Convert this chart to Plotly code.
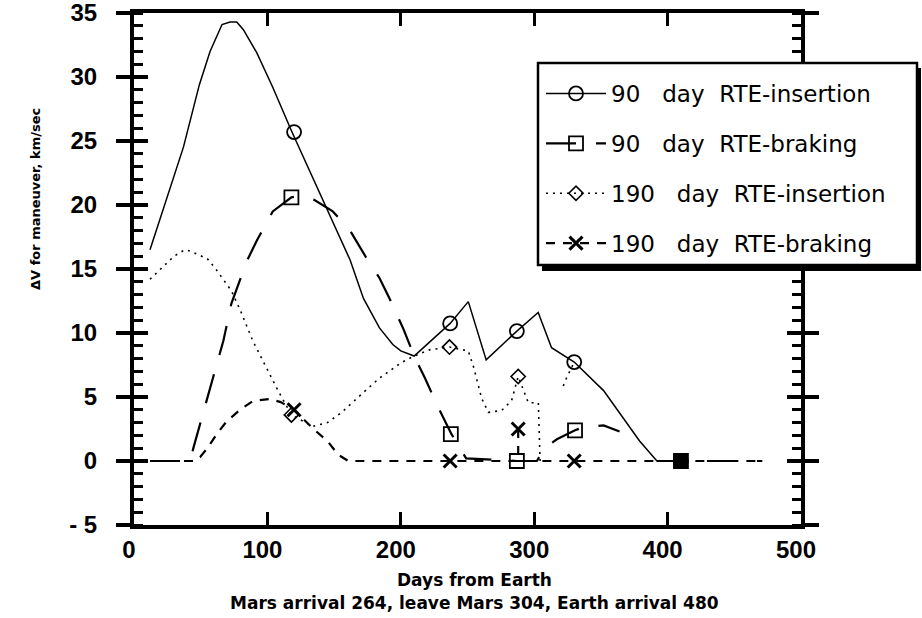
import plotly.graph_objects as go

# ---------------- data ----------------
names = ["90 day RTE-insertion", "90 day RTE-braking",
         "190 day RTE-insertion", "190 day RTE-braking"]
legend_labels = ["90\u00a0\u00a0 day\u00a0 RTE-insertion", "90\u00a0\u00a0 day\u00a0 RTE-braking",
                 "190\u00a0\u00a0 day\u00a0 RTE-insertion", "190\u00a0\u00a0 day\u00a0 RTE-braking"]

# 90 day RTE-insertion
a_x = [12, 24, 37, 49, 57, 66, 72, 77, 82, 92, 104, 118, 134, 149, 162, 172, 184, 194, 200, 210,
       237, 250.6, 264, 287, 303, 313, 330, 352, 372, 379, 392, 410]
a_y = [16.5, 20.3, 24.5, 29.4, 32, 34.1, 34.3, 34.3, 33.7, 31.9, 29.2, 25.8, 22.1, 18.75, 15.7, 12.7,
       10.4, 9.1, 8.6, 8.2, 10.75, 12.45, 7.9, 10.15, 11.6, 8.85, 7.73, 5.5, 2.6, 1.56, 0, 0]
a_mx = [120, 237, 287, 330, 410]
a_my = [25.7, 10.75, 10.15, 7.73, 0]

# 90 day RTE-braking
b_x = [12, 42, 45, 57, 67, 73, 84.5, 92, 104, 118, 124, 135, 149, 162, 174, 184, 192, 202, 210, 218,
       228, 238, 241, 249, 287, 302, 308, 317, 330.6, 337, 352, 364, None, 392, 471]
b_y = [0, 0, 1.2, 5.7, 9.4, 12.3, 15.6, 17.2, 19.5, 20.6, 20.7, 20.4, 19.5, 18, 15.9, 14.3, 12.6, 10.3, 8.2, 6.5,
       4.2, 2.1, 1.6, 0.2, 0, 0, 1.04, 1.7, 2.4, 2.65, 2.78, 2.3, None, 0, 0]
b_mx = [118, 237.5, 287, 330.6, 410]
b_my = [20.6, 2.1, 0, 2.4, 0]
b_msym = ["square-open", "square-open", "square-open", "square-open", "square"]

# 190 day RTE-insertion
c_x = [12, 20.7, 30, 38, 42, 55, 62, 73, 80, 89, 99, 108, 118, 134, 145, 155.7, 175.6, 184.4, 200.6, 210,
       222, 236.5, 250.6, 254.4, 260.6, 265.6, 275.6, 283, 288, 295.6, 303.1, 304.4, None, 321.8, 324.3, 330]
c_y = [14.2, 15.1, 16.0, 16.5, 16.4, 15.8, 14.9, 13.3, 11.7, 9.4, 7.3, 5.5, 3.6, 2.7, 3.0, 3.8, 5.7, 6.5, 7.7, 8.2,
       8.7, 8.9, 8.6, 7.4, 4.9, 3.8, 3.95, 4.7, 6.6, 4.55, 4.55, 0, None, 5.86, 6.5, 7.73]
c_mx = [118, 236.5, 288]
c_my = [3.6, 8.9, 6.6]

# 190 day RTE-braking
d_x = [12, 45, 49.5, 55, 62, 69.5, 79.5, 89.4, 102, 110, 120, 134, 145, 153, 160.6, 471, None, 288, 288]
d_y = [0, 0, 0.3, 1.0, 2.1, 3.1, 4.0, 4.7, 4.85, 4.6, 4.0, 2.55, 1.56, 0.5, 0, 0, None, 2.5, 0]
d_mx = [120, 237, 288, 330]
d_my = [4.0, 0, 2.5, 0]

x_ticks = [0, 100, 200, 300, 400, 500]
y_ticks = [-5, 0, 5, 10, 15, 20, 25, 30, 35]
y_ticktext = ["- 5", "0", "5", "10", "15", "20", "25", "30", "35"]

# ---------------- styles ----------------
line_styles = [
    dict(color="black", width=1.5, dash="solid"),
    dict(color="black", width=2.2, dash="30px,20px"),
    dict(color="black", width=1.6, dash="2px,5px"),
    dict(color="black", width=2.2, dash="9px,8px"),
]
marker_styles = [
    dict(symbol="circle-open", size=14, color="black", line=dict(width=1.8, color="black")),
    dict(symbol="square-open", size=14, color="black", line=dict(width=1.8, color="black")),
    dict(symbol="diamond-open", size=11, color="black", line=dict(width=1.6, color="black")),
    dict(symbol="x-thin-open", size=13, color="black", line=dict(width=3, color="black")),
]

series = [(a_x, a_y, a_mx, a_my), (b_x, b_y, b_mx, b_my), (c_x, c_y, c_mx, c_my), (d_x, d_y, d_mx, d_my)]

fig = go.Figure()
for i, (sx, sy, mx, my) in enumerate(series):
    grp = f"g{i}"
    fig.add_trace(go.Scatter(x=sx, y=sy, mode="lines", line=line_styles[i],
                             showlegend=False, legendgroup=grp, hoverinfo="skip",
                             connectgaps=False, name=names[i]))
    m = dict(marker_styles[i])
    if i == 1:
        m["symbol"] = b_msym
    fig.add_trace(go.Scatter(x=mx, y=my, mode="markers", marker=m,
                             showlegend=False, legendgroup=grp, name=names[i]))
    # legend entry (line + marker sample)
    fig.add_trace(go.Scatter(x=[None], y=[None], mode="lines+markers", line=line_styles[i],
                             marker=marker_styles[i], name=legend_labels[i],
                             legendgroup=grp, showlegend=True))

# plot area in pixels
L, R, T, B = 134, 801, 13, 525
W, H = 922, 618
pw, ph = R - L, B - T

def px(x):
    return (x - L) / pw

def py(y):
    return (B - y) / ph

tickfont = dict(family="Liberation Sans, Arial", size=24, color="black", weight="bold")

fig.update_layout(
    width=W, height=H,
    margin=dict(l=L, r=W - R, t=T, b=H - B, autoexpand=False),
    paper_bgcolor="white", plot_bgcolor="white",
    showlegend=True,
    legend=dict(x=px(541), y=py(72), xanchor="left", yanchor="top",
                bgcolor="rgba(0,0,0,0)", borderwidth=0,
                font=dict(family="DejaVu Sans", size=23, color="black"),
                itemwidth=60, traceorder="grouped", tracegroupgap=17,
                itemclick=False),
    xaxis=dict(range=[0, 500], tickvals=x_ticks, showgrid=False, zeroline=False,
               showline=True, linecolor="black", linewidth=4, mirror="ticks",
               ticks="inside", ticklen=13, tickwidth=3, tickcolor="black",
               tickfont=tickfont, ticklabelstandoff=0, ticklabelshift=-5,
               ticklabeloverflow="allow"),
    yaxis=dict(range=[-5, 35], tickvals=y_ticks, ticktext=y_ticktext, showgrid=False, zeroline=False,
               showline=True, linecolor="black", linewidth=4, mirror="ticks",
               ticks="outside", ticklen=14, tickwidth=4, tickcolor="black",
               minor=dict(dtick=1, ticks="inside", ticklen=9, tickwidth=3, tickcolor="black", showgrid=False),
               tickfont=tickfont, ticklabelstandoff=14, ticklabeloverflow="allow"),
    yaxis2=dict(range=[-5, 35], tickvals=y_ticks, overlaying="y", side="left", showgrid=False,
                zeroline=False, showline=False, mirror="ticks", ticks="inside", ticklen=14,
                tickwidth=4, tickcolor="black", showticklabels=False),
)

# an empty trace anchoring yaxis2 so the inner major ticks are drawn
fig.add_trace(go.Scatter(x=[None], y=[None], yaxis="y2", showlegend=False, hoverinfo="skip"))

# legend frame: drop shadow, then white box with black border
fig.add_shape(type="rect", xref="paper", yref="paper", layer="above",
              x0=px(542), x1=px(921), y0=py(271), y1=py(68),
              fillcolor="black", line=dict(width=0))
fig.add_shape(type="rect", xref="paper", yref="paper", layer="above",
              x0=px(538), x1=px(917), y0=py(265), y1=py(63),
              fillcolor="white", line=dict(width=2.5, color="black"))

# axis titles
fig.add_annotation(text="ΔV for maneuver, km/sec", textangle=-90, xref="paper", yref="paper",
                   x=px(35), y=py(199), xanchor="center", yanchor="middle",
                   showarrow=False, font=dict(family="DejaVu Sans", size=13, color="black", weight="bold"))
fig.add_annotation(text="Days from Earth", xref="paper", yref="paper",
                   x=px(474), y=py(580), xanchor="center", yanchor="middle",
                   showarrow=False, font=dict(family="DejaVu Sans", size=17, color="black", weight="bold"))
fig.add_annotation(text="Mars arrival 264, leave Mars 304, Earth arrival 480", xref="paper", yref="paper",
                   x=px(474), y=py(603), xanchor="center", yanchor="middle",
                   showarrow=False, font=dict(family="DejaVu Sans", size=17, color="black", weight="bold"))

fig.write_html("out.html")
